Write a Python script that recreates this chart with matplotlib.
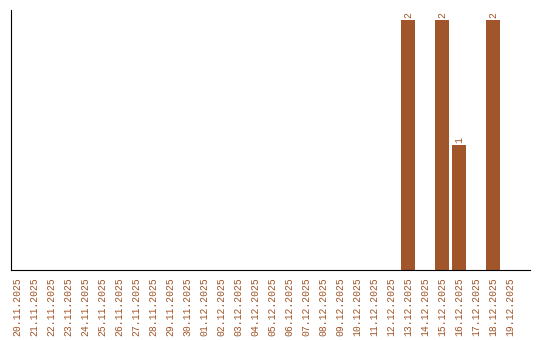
import matplotlib.pyplot as plt
import numpy as np

dates = ["20.11.2025", "21.11.2025", "22.11.2025", "23.11.2025", "24.11.2025",
         "25.11.2025", "26.11.2025", "27.11.2025", "28.11.2025", "29.11.2025",
         "30.11.2025", "01.12.2025", "02.12.2025", "03.12.2025", "04.12.2025",
         "05.12.2025", "06.12.2025", "07.12.2025", "08.12.2025", "09.12.2025",
         "10.12.2025", "11.12.2025", "12.12.2025", "13.12.2025", "14.12.2025",
         "15.12.2025", "16.12.2025", "17.12.2025", "18.12.2025", "19.12.2025"]
counts = [0, 0, 0, 0, 0, 0, 0, 0, 0, 0,
          0, 0, 0, 0, 0, 0, 0, 0, 0, 0,
          0, 0, 0, 2, 0, 2, 1, 0, 2, 0]

color = '#a0562a'

fig = plt.figure(figsize=(5.4, 3.4), dpi=100)
ax = fig.add_axes([11/540, 70/340, 519/540, 260/340])

x = np.arange(len(dates))
bars = ax.bar(x, counts, width=0.82, color=color)
for xi, c in zip(x, counts):
    if c > 0:
        ax.text(xi, c + 0.02, str(c), rotation=90, ha='center', va='bottom',
                fontsize=7, family='Liberation Mono', color=color)

# plot area runs a bit past the last day on the right
ax.set_xlim(-0.35, 30.18)
ax.set_ylim(0, 2.08)
ax.set_xticks(x)
ax.set_xticklabels(dates, rotation=90, fontsize=7, family='Liberation Mono', color=color)
ax.tick_params(axis='x', length=0, pad=5)
ax.set_yticks([])
ax.spines['top'].set_visible(False)
ax.spines['right'].set_visible(False)

plt.savefig('out.png', dpi=100)
